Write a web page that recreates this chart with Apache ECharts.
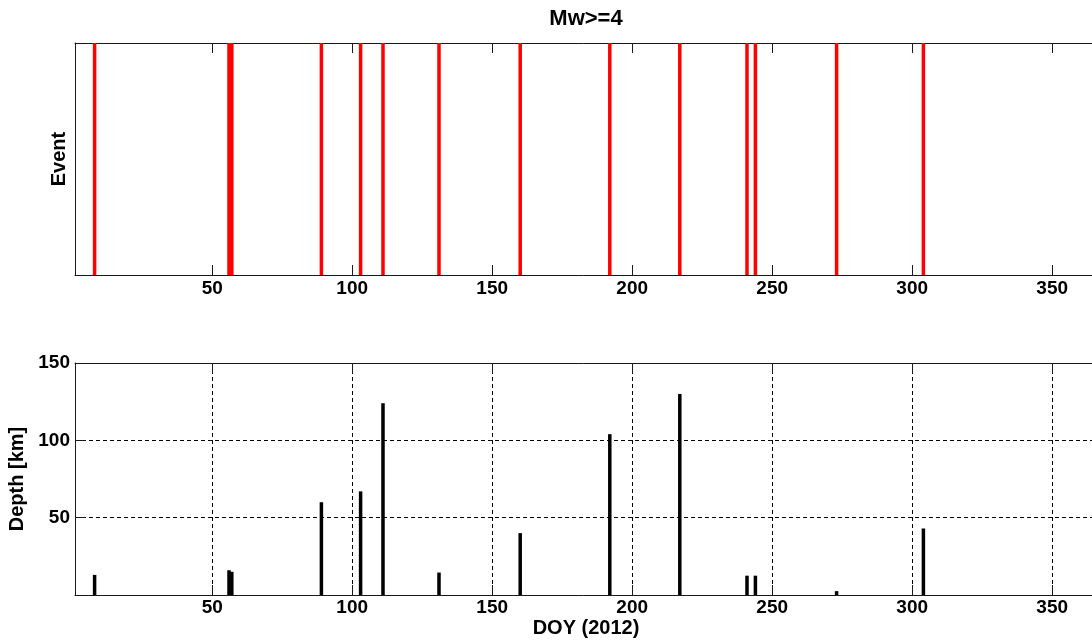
<!DOCTYPE html>
<html><head><meta charset="utf-8">
<script src="https://cdn.jsdelivr.net/npm/echarts@6/dist/echarts.min.js"></script>
<style>html,body{margin:0;padding:0;background:#fff}#c{width:1092px;height:642px}</style>
</head><body><div id="c"></div>
<script>
// Day-of-year of each Mw>=4 event and its depth (km)
const eventDoy = [8, 56, 57, 89, 103, 111, 131, 160, 192, 217, 241, 244, 273, 304];
const depthKm  = [13, 16, 15, 60, 67, 124, 14.5, 40, 104, 130, 12.5, 12.5, 2.5, 43];
const xTicks = [50, 100, 150, 200, 250, 300, 350];
const depthTicks = [50, 100, 150];
const titleText = 'Mw>=4';
const xName = 'DOY (2012)';
const eventName = 'Event';
const depthName = 'Depth [km]';

const FONT = 'Liberation Sans, Arial, Helvetica, sans-serif';
const axisColor = '#1a1a1a';
const lbl = {fontFamily: FONT, fontWeight: 'bold', fontSize: 19, color: '#000'};
const nameStyle = {fontFamily: FONT, fontWeight: 'bold', fontSize: 20, color: '#000'};
const line = {color: axisColor, width: 1};
const STEM_W = 3.5;

function xAx(gridIndex, position, opts) {
  return Object.assign({
    type: 'value', gridIndex, position, min: 1, max: 366,
    axisLine: {show: true, onZero: false, lineStyle: line},
    axisTick: {show: true, inside: true, length: 10, customValues: xTicks, lineStyle: line},
    axisLabel: {show: false},
    splitLine: {show: false}
  }, opts);
}

function stem(color) {
  return function (params, api) {
    const top = api.coord([api.value(0), api.value(1)]);
    const base = api.coord([api.value(0), 0]);
    return {
      type: 'rect',
      shape: {x: top[0] - STEM_W / 2, y: top[1], width: STEM_W, height: base[1] - top[1]},
      style: {fill: color}
    };
  };
}

const chart = echarts.init(document.getElementById('c'), null, {renderer: 'canvas'});
chart.setOption({
  animation: false,
  backgroundColor: '#fff',
  grid: [
    {left: 75, right: -5, top: 43, height: 232, outerBoundsMode: 'none', containLabel: false},
    {left: 75, right: -5, top: 363, height: 232, outerBoundsMode: 'none', containLabel: false}
  ],
  xAxis: [
    xAx(0, 'bottom', {axisLabel: Object.assign({show: true, customValues: xTicks, margin: 4}, lbl)}),
    xAx(0, 'top', {name: titleText, nameLocation: 'middle', nameGap: 13,
      nameTextStyle: Object.assign({}, nameStyle, {fontSize: 22})}),
    xAx(1, 'bottom', {
      axisLabel: Object.assign({show: true, customValues: xTicks, margin: 3}, lbl),
      splitLine: {show: true, lineStyle: {color: '#000', width: 1, type: [4, 3]}},
      name: xName, nameLocation: 'middle', nameGap: 23, nameTextStyle: nameStyle
    }),
    xAx(1, 'top', {})
  ],
  yAxis: [
    {type: 'value', gridIndex: 0, min: 0, max: 1,
      axisLine: {show: true, onZero: false, lineStyle: line},
      axisTick: {show: false}, axisLabel: {show: false}, splitLine: {show: false},
      name: eventName, nameLocation: 'middle', nameGap: 6, nameTextStyle: nameStyle},
    {type: 'value', gridIndex: 1, min: 0, max: 150, interval: 50,
      axisLine: {show: true, onZero: false, lineStyle: line},
      axisTick: {show: true, inside: true, length: 10, customValues: depthTicks, lineStyle: line},
      axisLabel: Object.assign({show: true, customValues: depthTicks, margin: 5}, lbl),
      splitLine: {show: true, showMinLine: true, showMaxLine: false,
        lineStyle: {color: '#000', width: 1, type: [4, 3]}},
      name: depthName, nameLocation: 'middle', nameGap: 46, nameTextStyle: nameStyle}
  ],
  series: [
    {type: 'custom', xAxisIndex: 0, yAxisIndex: 0, renderItem: stem('#ff0000'),
      encode: {x: 0, y: 1}, z: 1,
      data: eventDoy.map(d => [d, 1])},
    {type: 'custom', xAxisIndex: 2, yAxisIndex: 1, renderItem: stem('#000'),
      encode: {x: 0, y: 1}, z: 1,
      data: eventDoy.map((d, i) => [d, depthKm[i]])}
  ]
});
</script>
</body></html>
